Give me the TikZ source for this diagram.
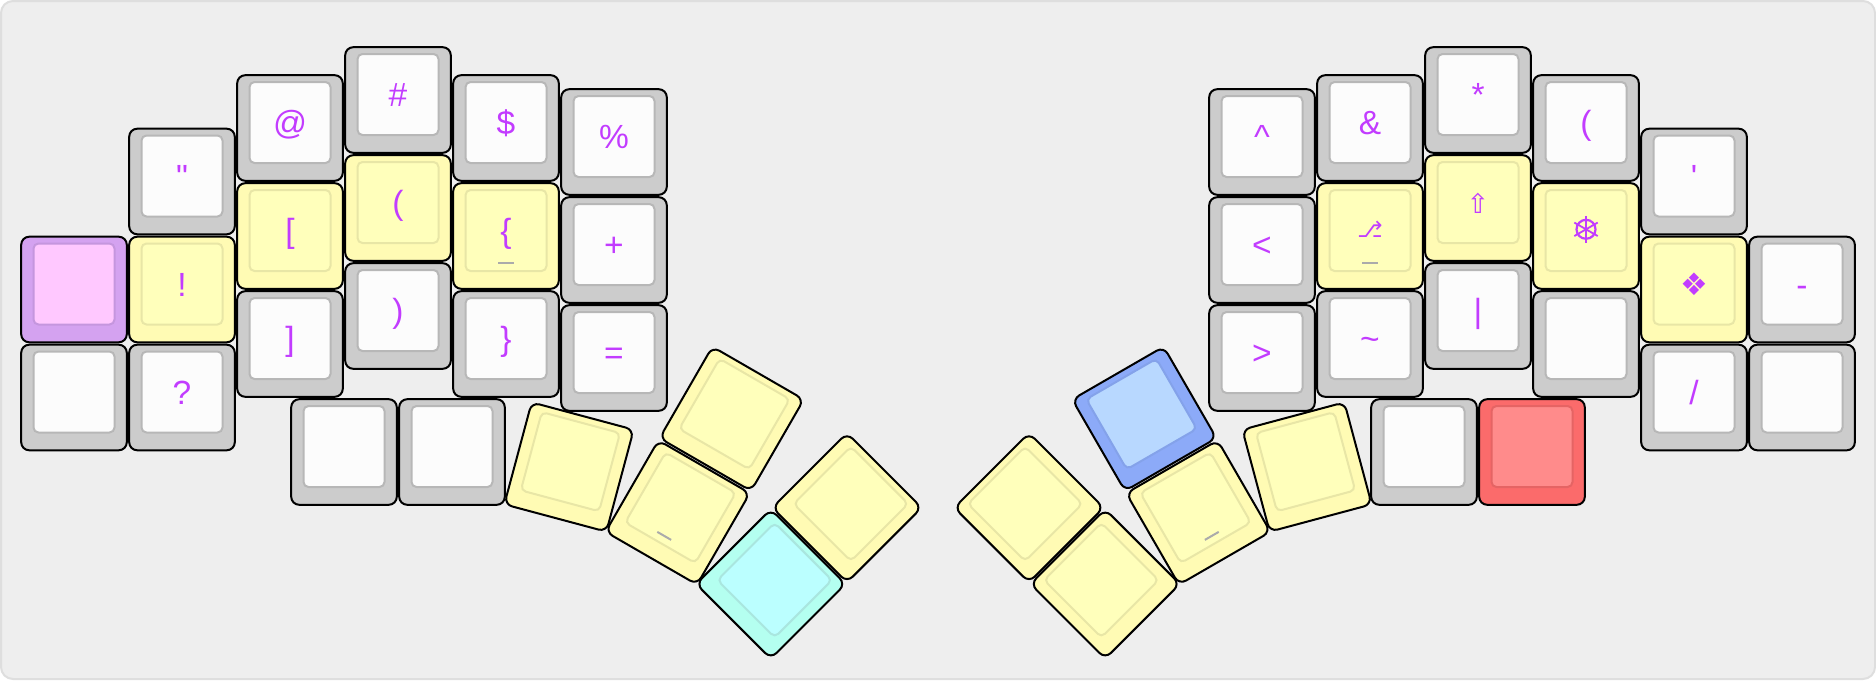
\documentclass[tikz,border=0pt]{standalone}
\usepackage{fontspec}
\setmainfont{Liberation Sans}
\newfontfamily\symfont{DejaVu Sans}
\usepackage{tikz}

\definecolor{graybase}{HTML}{CCCCCC}
\definecolor{graytop}{HTML}{FCFCFC}
\definecolor{grayline}{HTML}{B7B7B7}
\definecolor{yellowbase}{HTML}{FFFBB4}
\definecolor{yellowtop}{HTML}{FFFFBB}
\definecolor{yellowline}{HTML}{E8E6A6}
\definecolor{purplebase}{HTML}{D4A2F0}
\definecolor{purpletop}{HTML}{FFC8FF}
\definecolor{purpleline}{HTML}{C596DE}
\definecolor{cyanbase}{HTML}{B4FFF0}
\definecolor{cyantop}{HTML}{BBFFFF}
\definecolor{cyanline}{HTML}{A9E6DF}
\definecolor{bluebase}{HTML}{8CAAF8}
\definecolor{bluetop}{HTML}{B8D8FF}
\definecolor{blueline}{HTML}{84A2EA}
\definecolor{redbase}{HTML}{FB6B6B}
\definecolor{redtop}{HTML}{FF8B8B}
\definecolor{redline}{HTML}{E56464}
\definecolor{legend}{HTML}{C23CFF}

% キー一個 (名前, x, y, 角度, 色, 文字)
\newcommand{\keycap}[7][]{%
    \begin{scope}[shift={(#3,#4)}, rotate=#5, transform shape]
        \node [keybase, fill=#6base] (#2) at (0,0) {};
        \node [keytop, fill=#6top, draw=#6line] (#2top) at (0,-5.5) {#7};
        #1
    \end{scope}}
\newcommand{\symsize}[3]{\raisebox{#2pt}{\symfont\fontsize{#1}{#1}\selectfont #3}}

\begin{document}
\begin{tikzpicture}[x=1pt, y=-1pt]
    % スタイル定義
    \tikzstyle{panel} = [rectangle, draw=black!13, fill=black!6.5, line width=2pt, rounded corners=12pt, minimum width=1874pt, minimum height=678pt]
    \tikzstyle{keybase} = [rectangle, draw=black, line width=2pt, rounded corners=8pt, minimum size=105.6pt, inner sep=0pt]
    \tikzstyle{keytop} = [rectangle, line width=2pt, rounded corners=5pt, minimum size=81pt, inner sep=0pt, text=legend, text height=24pt, text depth=0pt, font=\fontsize{33.5}{33.5}\selectfont]
    \tikzstyle{homebar} = [rectangle, fill=black!33, minimum width=16pt, minimum height=2pt, inner sep=0pt]
    \tikzstyle{helmring} = [circle, draw=legend, line width=2.2pt, minimum size=19pt, inner sep=0pt]
    \tikzstyle{helmspoke} = [draw=legend, line width=1.8pt]

    \useasboundingbox (0,0) rectangle (1876,680);
    \node [panel] (board) at (938,340) {};

    % 左手
    \keycap{quote}{182}{181.5}{0}{gray}{\textquotedbl}
    \keycap{at}{290}{128}{0}{gray}{@}
    \keycap{hash}{398}{100}{0}{gray}{\#}
    \keycap{dollar}{506}{128}{0}{gray}{\$}
    \keycap{percent}{614}{142}{0}{gray}{\%}
    \keycap{layerL}{74}{289.5}{0}{purple}{}
    \keycap{bang}{182}{289.5}{0}{yellow}{!}
    \keycap{lbrack}{290}{236}{0}{yellow}{[}
    \keycap{lparen}{398}{208}{0}{yellow}{(}
    \keycap[{\node [homebar] (homeL) at (0,27) {};}]{lbrace}{506}{236}{0}{yellow}{\{}
    \keycap{plus}{614}{250}{0}{gray}{+}
    \keycap{blankL}{74}{397.5}{0}{gray}{}
    \keycap{question}{182}{397.5}{0}{gray}{?}
    \keycap{rbrack}{290}{344}{0}{gray}{]}
    \keycap{rparen}{398}{316}{0}{gray}{)}
    \keycap{rbrace}{506}{344}{0}{gray}{\}}
    \keycap{equal}{614}{358}{0}{gray}{=}

    % 左親指
    \keycap{thumbLa}{344}{452}{0}{gray}{}
    \keycap{thumbLb}{452}{452}{0}{gray}{}
    \keycap{thumbLc}{569}{467}{-15}{yellow}{}
    \keycap{thumbLd}{731.7}{418.8}{-30}{yellow}{}
    \keycap[{\node [homebar] (homeLt) at (0,27) {};}]{thumbLe}{677.7}{512.5}{-30}{yellow}{}
    \keycap{thumbLf}{847}{507.7}{-45}{yellow}{}
    \keycap{thumbLg}{770.8}{584}{-45}{cyan}{}

    % 右手
    \keycap{caret}{1262}{142}{0}{gray}{\textasciicircum}
    \keycap{amp}{1370}{128}{0}{gray}{\&}
    \keycap{star}{1478}{100}{0}{gray}{*}
    \keycap{parenR}{1586}{128}{0}{gray}{(}
    \keycap{apos}{1694}{181.5}{0}{gray}{\textquotesingle}
    \keycap{less}{1262}{250}{0}{gray}{<}
    \keycap[{\node [homebar] (homeR) at (0,27) {};}]{alt}{1370}{236}{0}{yellow}{\symsize{22}{5.2}{⎇}}
    \keycap{shift}{1478}{208}{0}{yellow}{\symsize{27}{0.7}{⇧}}
    % 舵輪の記号はフォントに無いので図形で
    \keycap[{\node [helmring] (helmIcon) at (0,-6.7) {};
        \foreach \a in {90,30,-30} \draw [helmspoke, shift={(0,-6.7)}] (\a:-13.5) -- (\a:13.5);}]{helm}{1586}{236}{0}{yellow}{}
    \keycap{super}{1694}{289.5}{0}{yellow}{\symsize{31}{0.8}{❖}}
    \keycap{minus}{1802}{289.5}{0}{gray}{-}
    \keycap{greater}{1262}{358}{0}{gray}{>}
    \keycap{tilde}{1370}{344}{0}{gray}{\textasciitilde}
    \keycap{pipe}{1478}{316}{0}{gray}{|}
    \keycap{blankRa}{1586}{344}{0}{gray}{}
    \keycap{slash}{1694}{397.5}{0}{gray}{/}
    \keycap{blankRb}{1802}{397.5}{0}{gray}{}

    % 右親指
    \keycap{thumbRa}{1532}{452}{0}{red}{}
    \keycap{thumbRb}{1424}{452}{0}{gray}{}
    \keycap{thumbRc}{1307}{467}{15}{yellow}{}
    \keycap{thumbRd}{1144.3}{418.8}{30}{blue}{}
    \keycap[{\node [homebar] (homeRt) at (0,27) {};}]{thumbRe}{1198.3}{512.5}{30}{yellow}{}
    \keycap{thumbRf}{1029}{507.7}{45}{yellow}{}
    \keycap{thumbRg}{1105.2}{584}{45}{yellow}{}
\end{tikzpicture}
\end{document}
